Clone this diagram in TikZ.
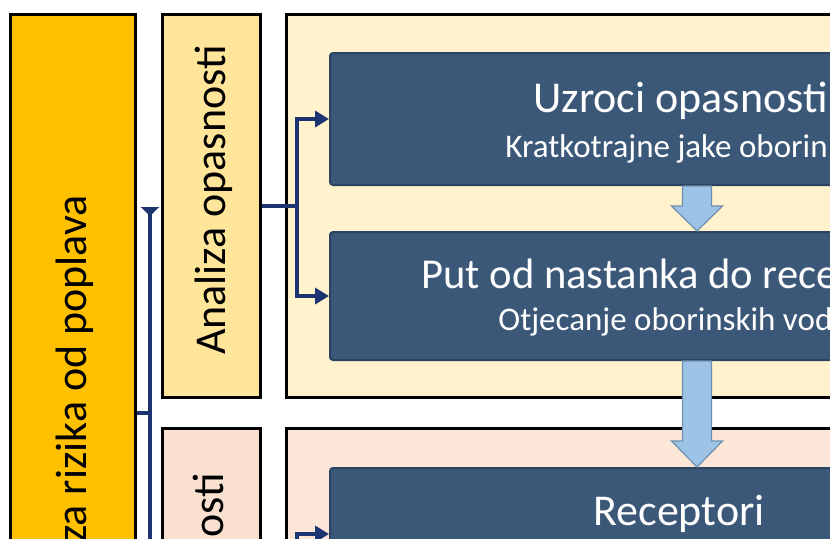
\documentclass[tikz,border=0pt]{standalone}
\usepackage{fontspec}
\setmainfont{Carlito}
\usepackage{xcolor}
\usetikzlibrary{fit,calc,arrows.meta}

\definecolor{rootorange}{HTML}{FFC000}
\definecolor{hazyellow}{HTML}{FEE59A}
\definecolor{hazpanel}{HTML}{FFF2CC}
\definecolor{vulpink}{HTML}{F9E0D0}
\definecolor{vulpanel}{HTML}{FBE6D8}
\definecolor{stepblue}{HTML}{3C5878}
\definecolor{stepedge}{HTML}{2C4461}
\definecolor{linknavy}{HTML}{1C3470}
\definecolor{flowblue}{HTML}{9DC3E6}
\definecolor{flowedge}{HTML}{6F8FB0}

\begin{document}
\begin{tikzpicture}[x=0.5pt,y=-0.5pt,
        frame/.style={draw=black, line width=1.5pt, inner sep=0pt},
        stepbox/.style={draw=stepedge, fill=stepblue, line width=1pt,
                        rounded corners=1.5pt, inner sep=0pt},
        link/.style={draw=linknavy, line width=2pt},
        tip/.style={-{Triangle[length=7pt,width=8pt]}},
        flow/.style={fill=flowblue, draw=flowedge, line width=0.6pt},
        big/.style={font=\fontsize{22}{26}\selectfont},
        small/.style={font=\fontsize{16.5}{20}\selectfont},
        txt/.style={inner sep=0pt}]
    \useasboundingbox (0,0) rectangle (830,538);
    \clip (0,0) rectangle (830,538);

    % panels
    \node[frame, fill=hazpanel, fit={(286,14) (1100,397)}] (hazpan) {};
    \node[frame, fill=vulpanel, fit={(286,428) (1100,900)}] (vulpan) {};

    % left columns
    \node[frame, fill=rootorange, fit={(10,14) (135,812)}] (root) {};
    \node[frame, fill=hazyellow, fit={(162,14) (260,397)}] (haz) {};
    \node[frame, fill=vulpink, fit={(162,428) (260,840)}] (vul) {};

    \node[txt, big, rotate=90, anchor=base east] (rootlabel) at (86,195) {za rizika od poplava};
    \node[txt, big, rotate=90, anchor=base] (hazlabel) at (225,200) {Analiza opasnosti};
    \node[txt, big, rotate=90, anchor=base east] (vullabel) at (223,473) {osti};

    % steps
    \node[stepbox, fit={(330,53) (1064,185)}] (cause) {};
    \node[stepbox, fit={(330,232) (1064,360)}] (path) {};
    \node[stepbox, fit={(330,468) (1064,600)}] (rec) {};

    \node[txt, big, text=white, anchor=base west] (causetitle) at (533,112) {Uzroci opasnosti};
    \node[txt, small, text=white, anchor=base west] (causetext) at (505,157) {Kratkotrajne jake oborin};
    \node[txt, big, text=white, anchor=base west, font=\fontsize{21.3}{26}\selectfont] (pathtitle) at (421,288) {Put od nastanka do rece};
    \node[txt, small, text=white, anchor=base west] (pathtext) at (498,330) {Otjecanje oborinskih vod};
    \node[txt, big, text=white, anchor=base west] (rectitle) at (593,525) {Receptori};

    % connectors
    \coordinate (rootbus) at (150,413);
    \coordinate (hazbus) at (297,205.5);
    \coordinate (vulbus) at (297,634);
    \draw[link] (root.east |- rootbus) -- (rootbus);
    \draw[link, -{Triangle[reversed,length=4.5pt,width=9pt]}] (rootbus) -- (rootbus |- 0,207);
    \draw[link, tip] (rootbus) |- (vul.west);
    \draw[link] (haz.east) -- (hazbus);
    \draw[link, tip] (hazbus) |- (cause.west);
    \draw[link, tip] (hazbus) |- (path.west);
    \draw[link] (vul.east) -- (vulbus);
    \draw[link, tip] (vulbus) |- (rec.west);

    % block arrows
    \coordinate (ax) at (697,0);
    \path[flow] let \p1=(cause.south -| ax), \p2=(path.north -| ax) in
        (\x1-7.25pt,\y1) -- (\x1-7.25pt,\y2+12.5pt) -- (\x1-12.75pt,\y2+12.5pt) -- (\x2,\y2)
        -- (\x1+12.75pt,\y2+12.5pt) -- (\x1+7.25pt,\y2+12.5pt) -- (\x1+7.25pt,\y1) -- cycle;
    \path[flow] let \p1=(path.south -| ax), \p2=(rec.north -| ax) in
        (\x1-7.25pt,\y1) -- (\x1-7.25pt,\y2+13pt) -- (\x1-12.75pt,\y2+13pt) -- (\x2,\y2)
        -- (\x1+12.75pt,\y2+13pt) -- (\x1+7.25pt,\y2+13pt) -- (\x1+7.25pt,\y1) -- cycle;
\end{tikzpicture}
\end{document}
